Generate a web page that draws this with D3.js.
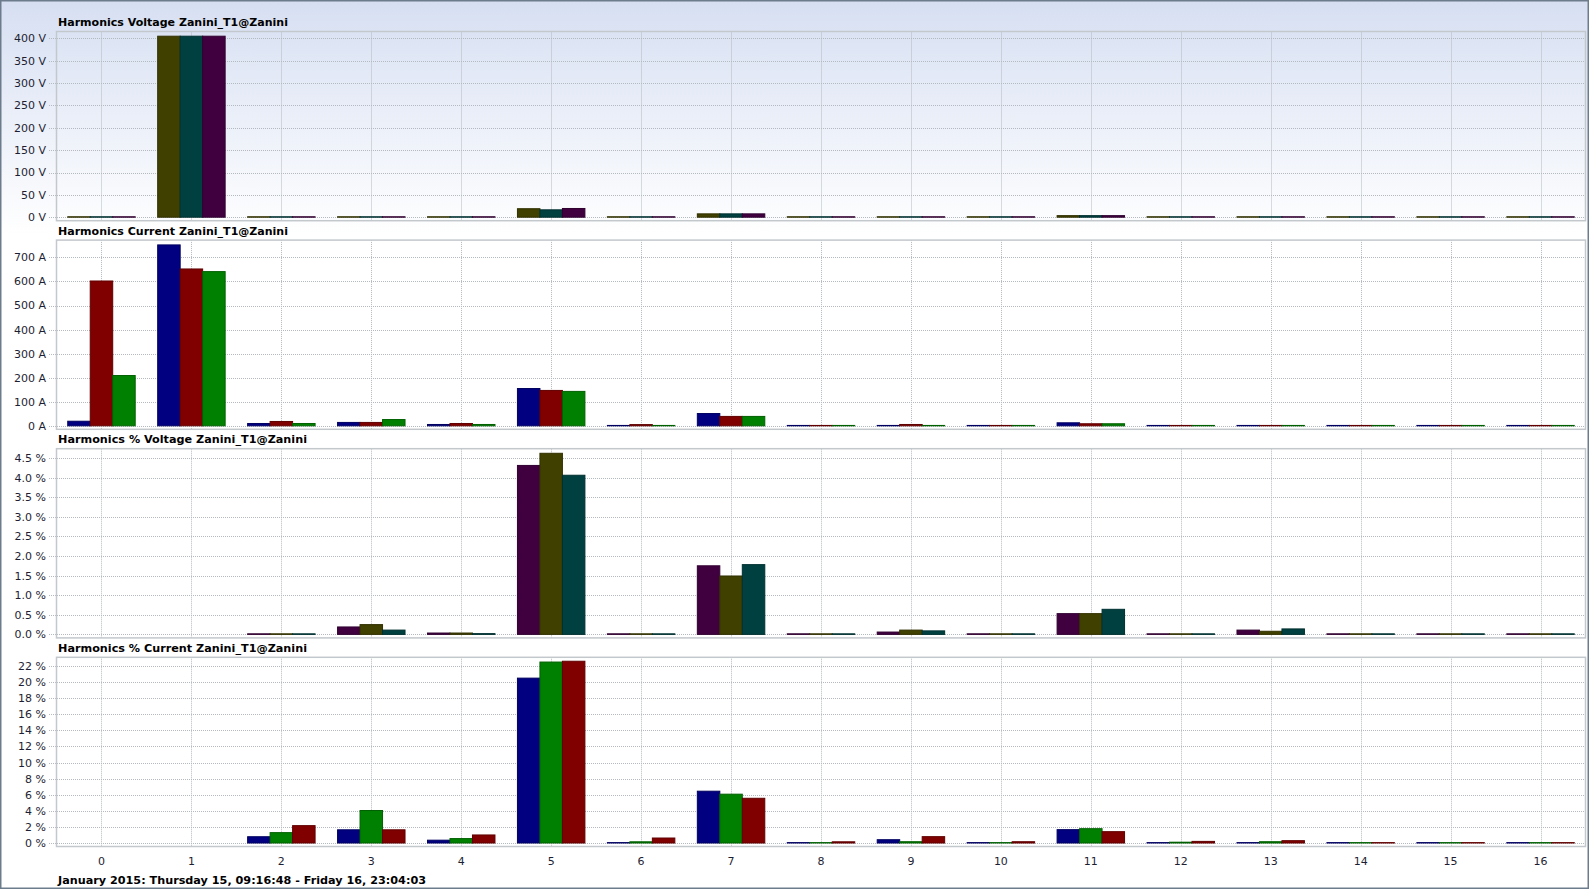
<!DOCTYPE html>
<html><head><meta charset="utf-8">
<script src="https://cdn.jsdelivr.net/npm/d3@7"></script>
<style>html,body{margin:0;padding:0;background:#fff;overflow:hidden} svg{display:block}</style>
</head><body><svg id="c" width="1589" height="889"></svg>
<script>
// ---------- data ----------
const categories = ["0","1","2","3","4","5","6","7","8","9","10","11","12","13","14","15","16"];

const titles = [
  "Harmonics Voltage Zanini_T1@Zanini",
  "Harmonics Current Zanini_T1@Zanini",
  "Harmonics % Voltage Zanini_T1@Zanini",
  "Harmonics % Current Zanini_T1@Zanini"
];
const footerText = "January 2015: Thursday 15, 09:16:48 - Friday 16, 23:04:03";

// Panel 1: voltage (V)
const voltL1 = [1, 405, 1, 1, 1, 19, 1, 7.5, 1, 1, 1, 3.5, 1, 1, 1, 1, 1];
const voltL2 = [1, 405, 1, 1, 1, 16.5, 1, 7.5, 1, 1, 1, 3.5, 1, 1, 1, 1, 1];
const voltL3 = [1, 405, 1, 1, 1, 19.5, 1, 7.5, 1, 1, 1, 3.5, 1, 1, 1, 1, 1];
const voltTicks = [0, 50, 100, 150, 200, 250, 300, 350, 400];

// Panel 2: current (A)
const currL1 = [19, 752, 9.6, 14, 5.5, 155, 1.5, 51, 1.5, 1.5, 1.5, 12.5, 1.5, 1.5, 1.5, 1.5, 1.5];
const currL2 = [602, 652, 18, 14, 9.6, 147, 5, 39, 1.5, 5.5, 1.5, 8.5, 1.5, 1.5, 1.5, 1.5, 1.5];
const currL3 = [209, 641, 9.6, 26, 5.5, 143, 1.5, 39, 1.5, 1.5, 1.5, 8.5, 1.5, 1.5, 1.5, 1.5, 1.5];
const currTicks = [0, 100, 200, 300, 400, 500, 600, 700];

// Panel 3: voltage % (purple, olive, teal)
const voltPctL1 = [0, 0, 0.015, 0.19, 0.035, 4.31, 0.015, 1.75, 0.015, 0.06, 0.015, 0.53, 0.015, 0.11, 0.015, 0.015, 0.015];
const voltPctL2 = [0, 0, 0.015, 0.25, 0.035, 4.62, 0.015, 1.49, 0.015, 0.11, 0.015, 0.53, 0.015, 0.08, 0.015, 0.015, 0.015];
const voltPctL3 = [0, 0, 0.015, 0.11, 0.02, 4.06, 0.015, 1.78, 0.015, 0.09, 0.015, 0.64, 0.015, 0.14, 0.015, 0.015, 0.015];
const voltPctTicks = [0, 0.5, 1.0, 1.5, 2.0, 2.5, 3.0, 3.5, 4.0, 4.5];

// Panel 4: current % (blue, green, red)
const currPctL1 = [0, 0, 0.78, 1.64, 0.35, 20.5, 0.05, 6.44, 0.05, 0.41, 0.05, 1.66, 0.05, 0.05, 0.05, 0.05, 0.05];
const currPctL2 = [0, 0, 1.29, 4.04, 0.55, 22.5, 0.15, 6.07, 0.05, 0.16, 0.05, 1.78, 0.1, 0.16, 0.05, 0.05, 0.05];
const currPctL3 = [0, 0, 2.16, 1.64, 1.0, 22.6, 0.62, 5.56, 0.15, 0.79, 0.16, 1.41, 0.2, 0.29, 0.05, 0.05, 0.05];
const currPctTicks = [0, 2, 4, 6, 8, 10, 12, 14, 16, 18, 20, 22];

// ---------- styles ----------
const C = {olive:"#404000", teal:"#004040", purple:"#400040", navy:"#000080", maroon:"#800000", green:"#008000"};

const panels = [
  {title: titles[0], max: 415.5, ticks: voltTicks, fmt: v => v + " V",
   series: [[voltL1, C.olive], [voltL2, C.teal], [voltL3, C.purple]]},
  {title: titles[1], max: 772, ticks: currTicks, fmt: v => v + " A",
   series: [[currL1, C.navy], [currL2, C.maroon], [currL3, C.green]]},
  {title: titles[2], max: 4.737, ticks: voltPctTicks, fmt: v => v.toFixed(1) + " %",
   series: [[voltPctL1, C.purple], [voltPctL2, C.olive], [voltPctL3, C.teal]]},
  {title: titles[3], max: 23.09, ticks: currPctTicks, fmt: v => v + " %",
   series: [[currPctL1, C.navy], [currPctL2, C.green], [currPctL3, C.maroon]]}
];

const W = 1589, H = 889;
const left = 56.5, right = 1585.5;
const top0 = 31.5, step = 208.6, plotH = 185.7, below = 3.5;
const gridColor = "#b4b9bf", frameColor = "#c3c8cd", textColor = "#1e1e32";
const fontFam = "'DejaVu Sans', Verdana, sans-serif";

const svg = d3.select("#c");
const defs = svg.append("defs");
const grad = defs.append("linearGradient").attr("id","bg")
  .attr("gradientUnits","userSpaceOnUse").attr("x1",0).attr("y1",0).attr("x2",0).attr("y2",235);
grad.append("stop").attr("offset","0%").attr("stop-color","#d6dff2");
grad.append("stop").attr("offset","100%").attr("stop-color","#ffffff");

svg.append("rect").attr("width", W).attr("height", H).attr("fill", "#fff");
svg.append("rect").attr("width", W).attr("height", 235).attr("fill", "url(#bg)");

const x = d3.scaleBand().domain(categories).range([left, right]).paddingInner(0.25).paddingOuter(0.125);
const xs = d3.scaleBand().domain([0,1,2]).range([0, x.bandwidth()]);

panels.forEach((p, i) => {
  const top = top0 + i * step;
  const zero = top + plotH;
  const y = d3.scaleLinear().domain([0, p.max]).range([zero, top]);
  const g = svg.append("g");

  // title
  g.append("text").attr("x", 58).attr("y", top - 5.5)
    .attr("font-family", fontFam).attr("font-weight", "bold").attr("font-size", "11px")
    .attr("fill", "#000").attr("textLength", i < 2 ? 230 : 249).attr("lengthAdjust","spacingAndGlyphs")
    .text(p.title);

  // horizontal grid + tick labels
  p.ticks.forEach(t => {
    g.append("line").attr("x1", 49).attr("x2", right).attr("y1", Math.round(y(t)) + 0.5).attr("y2", Math.round(y(t)) + 0.5)
      .attr("stroke", gridColor).attr("stroke-dasharray", "1,1");
    g.append("text").attr("x", 46).attr("y", y(t)).attr("dy", "0.36em").attr("text-anchor", "end")
      .attr("font-family", fontFam).attr("font-size", "11px").attr("fill", textColor)
      .text(p.fmt(t));
  });

  // vertical grid
  categories.forEach(c => {
    const cx = Math.round(x(c) + x.bandwidth() / 2) + 0.5;
    g.append("line").attr("x1", cx).attr("x2", cx).attr("y1", top).attr("y2", zero + below)
      .attr("stroke", gridColor).attr("stroke-dasharray", "1,1");
  });

  // bars
  p.series.forEach(([vals, col], si) => {
    g.append("g").selectAll("rect").data(vals.map((v, k) => ({v, c: categories[k]})).filter(d => d.v > 0))
      .join("rect")
      .attr("x", d => x(d.c) + xs(si))
      .attr("width", xs.bandwidth())
      .attr("y", d => y(d.v))
      .attr("height", d => Math.max(0, zero - y(d.v)))
      .attr("fill", col)
      .attr("stroke", d3.color(col).darker(0.8))
      .attr("stroke-width", 1);
  });

  // frame
  g.append("rect").attr("x", left).attr("y", top).attr("width", right - left).attr("height", plotH + below)
    .attr("fill", "none").attr("stroke", frameColor).attr("stroke-width", 1.5);
});

// x labels
svg.append("g").selectAll("text").data(categories).join("text")
  .attr("x", d => x(d) + x.bandwidth() / 2).attr("y", 861).attr("dy", "0.36em")
  .attr("text-anchor", "middle").attr("font-family", fontFam).attr("font-size", "11px").attr("fill", textColor)
  .text(d => d);

// footer
svg.append("text").attr("x", 58).attr("y", 880).attr("dy", "0.36em")
  .attr("font-family", fontFam).attr("font-weight", "bold").attr("font-size", "11px").attr("fill", "#000")
  .attr("textLength", 368).attr("lengthAdjust","spacingAndGlyphs")
  .text(footerText);

// outer border
svg.append("rect").attr("x", 0.75).attr("y", 0.75).attr("width", W - 1.5).attr("height", H - 1.5)
  .attr("fill", "none").attr("stroke", "#6c7c8c").attr("stroke-width", 1.5);
</script>
</body></html>
